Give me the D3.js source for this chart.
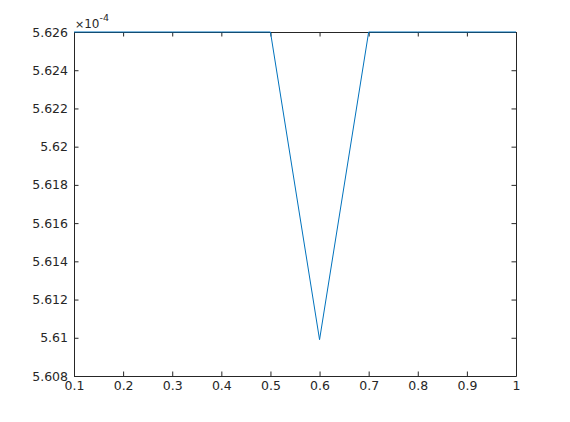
<!DOCTYPE html>
<html>
<head>
<meta charset="utf-8">
<script src="https://cdn.jsdelivr.net/npm/d3@7"></script>
<style>
  body { margin: 0; background: #fff; }
  svg { display: block; font-family: "DejaVu Sans", sans-serif; }
  .axis text { fill: #262626; font-size: 12.5px; font-family: "DejaVu Sans", sans-serif; }
  .axis path, .axis line { stroke: #262626; }
</style>
</head>
<body>
<div id="chart"></div>
<script>
// values, in units of 1e-4
const xValues = [0.1, 0.2, 0.3, 0.4, 0.5, 0.6, 0.7, 0.8, 0.9, 1.0];
const yValues = [5.626, 5.626, 5.626, 5.626, 5.626, 5.6099, 5.626, 5.626, 5.626, 5.626];
const xTicks = [0.1, 0.2, 0.3, 0.4, 0.5, 0.6, 0.7, 0.8, 0.9, 1];
const yTicks = [5.608, 5.61, 5.612, 5.614, 5.616, 5.618, 5.62, 5.622, 5.624, 5.626];
const exponent = "-4";

const width = 570;
const height = 422;
const margin = {left: 74, right: 54, top: 32, bottom: 46};

const svg = d3.select('#chart')
  .append('svg')
  .attr('width', width)
  .attr('height', height);

const xScale = d3.scaleLinear()
  .domain([0.1, 1])
  .range([margin.left, width - margin.right]);

const yScale = d3.scaleLinear()
  .domain([5.608, 5.626])
  .range([height - margin.bottom, margin.top]);

const fmt = d => String(+d.toFixed(4));

// bottom + left with labels, top + right box without
svg.append('g')
  .attr('class', 'axis')
  .attr('transform', `translate(0,${height - margin.bottom})`)
  .call(d3.axisBottom(xScale).tickValues(xTicks).tickFormat(fmt).tickSize(-4.5).tickSizeOuter(0).tickPadding(5));

svg.append('g')
  .attr('class', 'axis')
  .attr('transform', `translate(${margin.left},0)`)
  .call(d3.axisLeft(yScale).tickValues(yTicks).tickFormat(fmt).tickSize(-4.5).tickSizeOuter(0).tickPadding(6));

svg.append('g')
  .attr('class', 'axis')
  .attr('transform', `translate(0,${margin.top})`)
  .call(d3.axisTop(xScale).tickValues(xTicks).tickFormat('').tickSize(-4.5).tickSizeOuter(0));

svg.append('g')
  .attr('class', 'axis')
  .attr('transform', `translate(${width - margin.right},0)`)
  .call(d3.axisRight(yScale).tickValues(yTicks).tickFormat('').tickSize(-4.5).tickSizeOuter(0));

svg.selectAll('.axis .domain').attr('stroke-width', 1);

// exponent label
const expLabel = svg.append('text')
  .attr('x', margin.left + 1)
  .attr('y', margin.top - 4.5)
  .attr('fill', '#262626')
  .attr('font-family', '"DejaVu Sans", sans-serif')
  .attr('font-size', '12px');
expLabel.append('tspan').attr('font-size', '11px').text('×');
expLabel.append('tspan').text('10');
expLabel.append('tspan').attr('font-size', '9.5px').attr('dy', -7).text(exponent);

const line = d3.line()
  .x((d, i) => xScale(xValues[i]))
  .y(d => yScale(d));

svg.append('path')
  .datum(yValues)
  .attr('fill', 'none')
  .attr('stroke', '#0072BD')
  .attr('stroke-width', 1)
  .attr('d', line);
</script>
</body>
</html>
